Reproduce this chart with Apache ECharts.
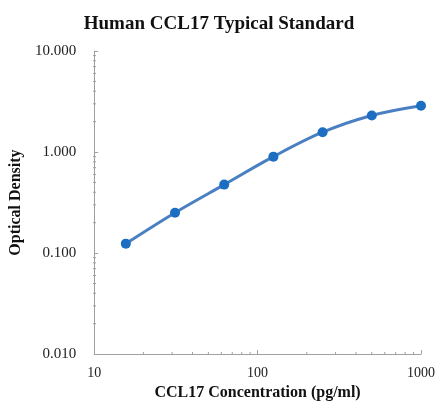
<!DOCTYPE html>
<html>
<head>
<meta charset="utf-8">
<script src="https://cdn.jsdelivr.net/npm/echarts@6/dist/echarts.min.js"></script>
<style>
html, body { margin: 0; padding: 0; background: #fff; }
#main { width: 438px; height: 406px; }
</style>
</head>
<body>
<div id="main"></div>
<script>
// 标准曲线数据
var concentrations = [15.625, 31.25, 62.5, 125, 250, 500, 1000];
var odValues = [0.124, 0.251, 0.476, 0.90, 1.57, 2.30, 2.87];
var xMinorTicks = [20, 30, 40, 50, 60, 70, 80, 90, 200, 300, 400, 500, 600, 700, 800, 900];
var yMinorTicks = [0.02, 0.03, 0.04, 0.05, 0.06, 0.07, 0.08, 0.09,
	0.2, 0.3, 0.4, 0.5, 0.6, 0.7, 0.8, 0.9, 2, 3, 4, 5, 6, 7, 8, 9];

var serif = '"Liberation Serif", "DejaVu Serif", serif';
var axisColor = '#a0a0a0';

var points = concentrations.map(function (c, i) {
	return [c, odValues[i]];
});

var myChart = echarts.init(document.getElementById('main'));

myChart.setOption({
	animation : false,
	title : {
		text : 'Human CCL17 Typical Standard',
		left : 'center',
		top : 10,
		textStyle : {
			fontFamily : serif,
			fontSize : 19,
			fontWeight : 'bold',
			color : '#111'
		}
	},
	grid : {
		left : 93,
		right : 15,
		top : 51,
		bottom : 51
	},
	xAxis : {
		type : 'log',
		min : 10,
		max : 1000,
		name : 'CCL17 Concentration (pg/ml)',
		nameLocation : 'middle',
		nameGap : 30,
		nameTextStyle : {
			fontFamily : serif,
			fontSize : 16,
			fontWeight : 'bold',
			color : '#111'
		},
		axisLine : { lineStyle : { color : axisColor } },
		axisTick : { inside : true, length : 4, lineStyle : { color : axisColor } },
		axisLabel : {
			fontFamily : serif,
			fontSize : 14,
			color : '#222',
			margin : 12,
			showMinLabel : true,
			showMaxLabel : true,
			formatter : function (v) {
				return String(Math.round(v));
			}
		},
		splitLine : { show : false }
	},
	yAxis : {
		type : 'log',
		min : 0.01,
		max : 10,
		name : 'Optical Density',
		nameLocation : 'middle',
		nameGap : 64,
		nameTextStyle : {
			fontFamily : serif,
			fontSize : 16,
			fontWeight : 'bold',
			color : '#111'
		},
		axisLine : { show : true, lineStyle : { color : axisColor } },
		axisTick : { show : true, inside : true, length : 4, lineStyle : { color : axisColor } },
		axisLabel : {
			fontFamily : serif,
			fontSize : 15,
			color : '#222',
			margin : 18,
			formatter : function (v) {
				return v.toFixed(3);
			}
		},
		splitLine : { show : false }
	},
	series : [ {
		type : 'line',
		data : points,
		smooth : 0.35,
		symbol : 'circle',
		symbolSize : 10,
		lineStyle : { color : '#4a80c2', width : 3 },
		itemStyle : { color : '#1b6ec2' }
	} ]
});

// 对数坐标的次刻度
var grid = { x0 : 93, y1 : 406 - 51 };
var graphics = [];
xMinorTicks.forEach(function (v) {
	var px = myChart.convertToPixel({ xAxisIndex : 0 }, v);
	graphics.push({
		type : 'line',
		shape : { x1 : px, y1 : grid.y1, x2 : px, y2 : grid.y1 - 3 },
		style : { stroke : axisColor, lineWidth : 1 }
	});
});
yMinorTicks.forEach(function (v) {
	var py = myChart.convertToPixel({ yAxisIndex : 0 }, v);
	graphics.push({
		type : 'line',
		shape : { x1 : grid.x0, y1 : py, x2 : grid.x0 + 3, y2 : py },
		style : { stroke : axisColor, lineWidth : 1 }
	});
});
myChart.setOption({ graphic : graphics });
</script>
</body>
</html>
